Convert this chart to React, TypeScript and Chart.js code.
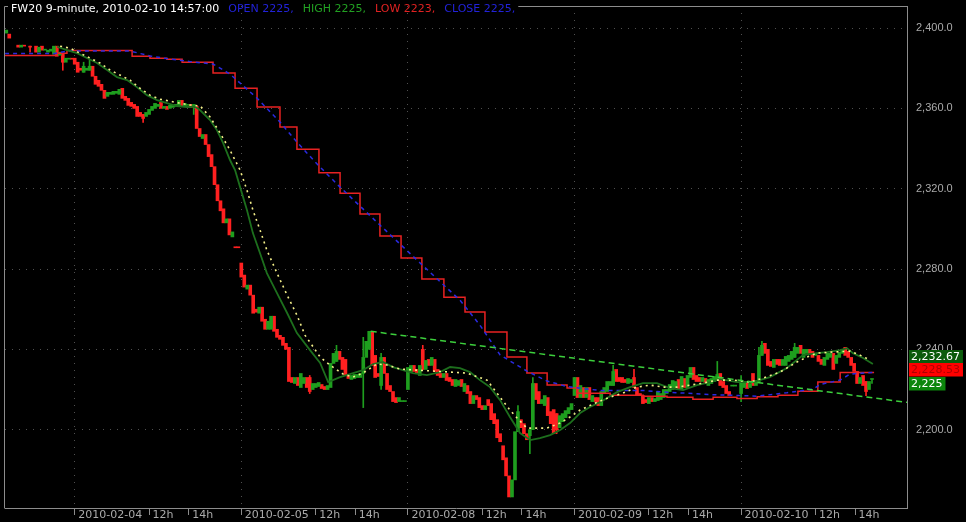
import React, { useEffect, useRef } from 'react';
import { Chart, registerables } from 'chart.js';

Chart.register(...registerables);

// ---------- header / axis data ----------
const SYMBOL_TITLE = 'FW20 9-minute, 2010-02-10 14:57:00';
const LAST_OPEN = 2225;
const LAST_HIGH = 2225;
const LAST_LOW = 2223;
const LAST_CLOSE = 2225;

const DATE_LABELS = ['2010-02-04', '2010-02-05', '2010-02-08', '2010-02-09', '2010-02-10'];
const HOUR_LABELS = ['12h', '14h'];
const HOUR_BAR_OFFSETS = [25, 38.33];
const BARS_PER_DAY = 56;
const Y_TICKS = [2200, 2240, 2280, 2320, 2360, 2400];
const X_RANGE = [-23.43, 279.77];
const Y_RANGE = [2161, 2411];

// ---------- candles: [open, close] or [open, close, high, low] ----------
const feb03 = [
  [2397.5, 2399], [2397, 2395], null, null, [2391.5, 2390.5], [2390.5, 2391.5], [2391.5, 2391], null,
  [2391, 2390.5, 2391, 2388], null, [2391, 2388], [2388, 2390.5], [2391, 2389], [2389, 2389.5], [2388, 2389], [2388.5, 2389.5],
  [2387, 2391], [2391, 2386], [2386.5, 2388], [2387.5, 2383, 2387.5, 2379], [2383, 2385], [2384.5, 2384.5], [2385, 2384.5],
];
const feb04 = [
  [2385, 2382], [2383, 2378], [2380, 2379], [2378, 2381, 2383, 2378], [2379, 2380], [2379, 2381, 2384, 2379], [2381, 2376], [2376, 2372],
  [2374, 2371], [2372, 2369], [2369, 2365], [2366, 2368], [2367, 2368], [2367, 2368.5], [2367.5, 2368.5], [2367, 2369.5],
  [2370, 2365], [2366, 2364], [2365, 2361.5], [2363, 2361], [2362, 2360], [2361, 2356], [2358, 2356], [2357, 2355, 2357, 2353],
  [2356, 2358], [2357, 2359.5], [2359, 2361], [2360, 2362.5], [2361, 2362], [2363, 2360], [2360, 2361], [2361, 2359.5],
  [2360, 2361.5], [2360.5, 2361.5], [2361, 2362], [2361, 2364], [2364, 2361], [2361, 2362.5], [2361.5, 2362], [2362, 2360.5],
  [2361, 2362, 2362, 2357], [2361, 2350], [2350, 2346], [2345, 2347], [2347, 2342], [2342, 2336], [2337, 2331], [2331, 2322],
  [2322, 2314], [2314, 2309], [2310, 2303], [2303, 2305], [2305, 2297], [2296, 2298.5], [2291, 2290.6], [2291, 2290.6],
];
const feb05 = [
  [2283, 2276], [2277, 2271], [2270, 2272], [2272, 2267], [2267, 2258], [2260, 2258.5], [2258, 2261], [2261, 2254],
  [2255, 2250], [2250, 2254], [2250, 2256.5], [2256.5, 2249], [2250, 2246], [2247, 2245], [2246, 2242], [2243, 2240],
  [2241, 2224], [2226, 2223.5], [2223, 2226], [2226, 2222], [2221, 2228], [2223, 2226], [2226, 2221], [2226, 2219, 2227, 2218],
  [2220, 2223], [2221, 2223], [2221.5, 2223.5], [2222.5, 2220.5], [2221.5, 2220], [2220, 2222], [2221, 2233], [2233, 2238],
  [2234, 2239, 2242, 2234], [2239, 2235], [2236, 2230], [2235, 2227], [2227, 2225.5], [2225, 2227], [2225.5, 2227.5], [2226, 2227.5],
  [2226, 2228], [2228, 2236, 2246, 2211], [2236, 2244], [2240, 2249], [2249, 2232], [2237, 2226], [2228, 2226.5], [2222, 2236, 2238, 2220],
  [2236, 2228], [2228, 2220], [2222, 2219], [2219, 2214], [2216, 2213.5], [2214, 2216], [2214, 2214.3], [2214, 2214.3],
];
const feb08 = [
  [2220, 2231], [2229, 2232], [2232, 2229], [2230, 2228], [2227, 2232], [2240, 2230, 2242, 2230], [2230, 2234.5], [2235, 2232],
  [2232, 2236], [2235, 2229], [2230, 2227], [2228, 2226], [2226, 2228], [2228, 2224.5], [2226, 2224], [2225, 2222],
  [2221.5, 2225], [2222, 2224.5], [2225, 2221.5], [2219, 2223], [2222, 2218], [2219, 2213], [2213, 2217], [2217, 2215],
  [2216, 2211], [2212, 2210], [2210, 2212], [2215, 2212], [2213, 2205], [2208, 2203], [2205, 2196], [2198, 2194],
  [2192, 2185], [2186, 2177], [2177, 2166.5], [2166.5, 2175], [2175, 2199], [2199, 2209, 2212, 2199], [2205, 2201], [2203, 2198],
  [2198, 2195], [2197, 2200, 2200, 2188], [2200, 2223, 2226, 2200], [2223, 2215], [2219, 2213], [2213, 2215], [2212, 2217], [2216, 2207],
  [2209, 2203], [2210, 2198], [2208, 2200, 2208, 2198], [2201, 2207], [2204, 2208], [2206, 2209.5], [2208, 2211], [2210, 2213],
];
const feb09 = [
  [2217, 2226], [2226, 2216], [2216, 2222], [2221, 2216], [2216, 2221], [2221, 2215], [2214, 2217], [2216, 2214],
  [2216, 2212], [2212, 2219], [2218, 2221], [2219, 2224], [2222, 2224], [2222, 2229, 2232, 2222], [2230, 2224], [2226, 2224],
  [2226, 2223.5], [2225, 2223.5], [2223, 2225.5], [2223.5, 2225], [2226, 2221, 2230, 2221], [2221, 2217], [2218, 2217], [2217, 2213],
  [2215, 2213.5], [2213, 2216], [2216, 2214], [2214, 2215.5], [2214.5, 2219], [2215, 2218], [2216, 2220], [2218, 2220],
  [2219, 2222.5], [2220, 2224.5], [2221, 2224], [2225, 2220], [2220, 2226.5], [2225.5, 2221], [2221, 2227], [2226, 2231],
  [2231, 2225], [2227, 2224], [2226, 2224], [2224, 2226], [2225.5, 2223], [2222, 2225], [2223, 2225.5], [2224, 2226.5],
  [2225, 2227.5, 2234, 2225], [2228, 2222], [2224, 2221], [2222, 2218], [2219, 2217], [2221.7, 2222.2], [2221.7, 2222.2], null,
];
const feb10 = [
  [2218, 2224, 2227, 2214], [2221, 2224], [2223.5, 2220.5], [2221, 2223], [2228, 2222], [2222, 2224.5], [2224, 2237, 2241, 2224], [2237, 2242, 2244, 2237],
  [2243, 2238], [2240, 2232], [2234, 2231.5], [2231, 2235], [2235, 2232.5], [2235, 2232], [2232, 2235], [2232, 2236.5],
  [2234, 2237], [2235, 2239], [2236, 2241, 2243, 2236], [2238, 2241], [2242, 2238], [2236, 2240], [2238, 2240], [2240, 2238],
  [2239, 2236], [2237, 2237.7], [2237, 2234], [2235, 2232.5], [2232, 2236], [2235, 2238], [2236, 2238], [2238, 2230],
  [2233, 2237], [2236, 2238.5], [2238, 2240], [2241, 2237], [2239, 2236], [2236, 2232], [2233, 2229], [2229, 2223],
  [2223, 2226], [2227, 2222], [2224, 2219, 2224, 2217], [2220, 2224], [LAST_OPEN, LAST_CLOSE, LAST_HIGH, LAST_LOW],
];
const SESSIONS = [feb03, feb04, feb05, feb08, feb09, feb10];

// ---------- indicator lines: [bar index, value] ----------
const smaFast = [
  [-5.9, 2390.7], [-2.6, 2389], [0.8, 2387.5], [4.1, 2385.1], [7.5, 2382.6], [10.9, 2379.1], [14.2, 2375.6], [17.6, 2374.1],
  [20.9, 2370.6], [24.3, 2366.6], [27.7, 2364.1], [31, 2362.6], [34.4, 2361.2], [37.7, 2360.7], [40.4, 2360.9], [42.1, 2359.2],
  [45.5, 2354.2], [47.8, 2349.2], [49.9, 2342.7], [52.2, 2334.3], [53.9, 2329.3], [55.6, 2320.8], [57.9, 2309.4], [59.9, 2297.9],
  [62.3, 2287.9], [64.6, 2278], [68, 2268], [71.4, 2258.1], [74.7, 2248.1], [79.1, 2239.6], [82.5, 2233.2], [85.2, 2223.7],
  [89.2, 2226.2], [93.6, 2228.2], [96.9, 2229.7], [100.3, 2232.7], [103.6, 2233.7], [107, 2231.2], [113.7, 2228.2], [118.4, 2227.2],
  [122.8, 2228.7], [126.2, 2231.2], [129.5, 2230.7], [132.9, 2228.7], [136.2, 2224.7], [139.6, 2221.2], [143, 2214.7], [146.3, 2206.3],
  [149.7, 2198.3], [153.1, 2194.8], [156.4, 2195.8], [159.8, 2197.3], [163.2, 2199.8], [166.5, 2203.3], [169.9, 2208.3], [173.2, 2211.3],
  [176.6, 2213.7], [182.3, 2218.7], [186.7, 2221.2], [191, 2223.2], [195.7, 2223.2], [200.1, 2220.7], [204.5, 2219.7], [209.2, 2222.2],
  [213.6, 2223.7], [217, 2225.2], [222.6, 2223.7], [228, 2223.7], [233.7, 2226.2], [239.4, 2230.7], [244.8, 2237.2], [249.5, 2238.1],
  [252.9, 2238.6], [257.3, 2239.6], [259.6, 2240.6], [261.6, 2238.1], [265, 2235.7], [268.3, 2232.67],
];
const smaSlow = [
  [-4.9, 2391], [-1.6, 2390], [1.8, 2387.5], [5.1, 2385.1], [8.5, 2382.6], [11.9, 2379.1], [15.2, 2376.6], [18.6, 2374.1],
  [21.9, 2370.1], [25.3, 2366.6], [28.7, 2364.6], [32, 2363.6], [35.4, 2362.6], [38.8, 2361.7], [42.2, 2361.2], [45.5, 2355.7],
  [48.9, 2347.7], [52.2, 2339.2], [55.6, 2329.3], [57.9, 2319.3], [59.9, 2309.4], [62.3, 2299.4], [64.6, 2289.4], [68, 2278],
  [71.4, 2267], [74.7, 2257.1], [77.4, 2247.1], [82.5, 2236.2], [85.8, 2232.2], [90.2, 2227.7], [93.6, 2226.2], [96.9, 2228.2],
  [101.6, 2232.7], [105, 2232.2], [109.4, 2230.2], [120.4, 2229.2], [131.8, 2228.2], [138.6, 2224.7], [143, 2216.2], [146.3, 2209.8],
  [148.7, 2205.8], [152, 2200.8], [158.8, 2200.8], [163.1, 2203.3], [166.5, 2206.3], [169.9, 2209.8], [175.6, 2213.7], [179.9, 2216.2],
  [184.3, 2218.2], [189, 2221.2], [193.4, 2222.2], [197.8, 2221.2], [202.5, 2221.2], [206.8, 2222.2], [211.2, 2223.2], [216, 2224.7],
  [221.3, 2224.7], [227, 2223.7], [231.4, 2225.7], [237.1, 2228.7], [242.8, 2233.7], [246.2, 2236.2], [249.5, 2238.1], [253.9, 2238.6],
  [260.6, 2239.1], [264, 2237.1], [267.3, 2234.7],
];
const hourlyStep = [
  [-23.4, 2386.3], [-5.9, 2387.5], [-2.6, 2388.8], [19.3, 2386], [25.3, 2385], [31, 2384.5], [36.1, 2383], [46.5, 2377.6],
  [53.9, 2370], [61.3, 2360.7], [69, 2350.7], [74.7, 2339.7], [82.1, 2328], [89.2, 2317.8], [95.9, 2307.4], [102.6, 2296.4],
  [109.7, 2285.5], [116.7, 2275], [124.1, 2266], [131.2, 2258.6], [137.9, 2248.6], [145.3, 2236.2], [152, 2228.2], [158.8, 2222.2],
  [165.5, 2220.7], [168.8, 2218.2], [180, 2217.2], [191.1, 2216.7], [199.1, 2216.2], [207.8, 2215.2], [214.6, 2216.2], [222.6, 2215.5],
  [229.4, 2216.4], [236.4, 2217.2], [243.1, 2219.2], [249.8, 2223.7], [257.3, 2228.53], [268.7, 2228.53],
];
const hourlySmooth = [
  [-23.4, 2387.4], [-6.6, 2387.4], [-2.6, 2388.6], [18.6, 2388.6], [25.3, 2386.1], [31, 2384.8], [38.8, 2383.3], [46.5, 2382.1],
  [52.2, 2377.1], [61.3, 2365.1], [69, 2353.2], [74.7, 2343.2], [81.8, 2331.8], [89.2, 2320.8], [102.6, 2301.9], [116.1, 2283],
  [129.5, 2264.5], [136.2, 2252.1], [143, 2237.2], [152, 2229.2], [158.8, 2224.2], [165.5, 2221.5], [176.6, 2219.5], [191.1, 2219.5],
  [199.1, 2218.7], [213.5, 2217.5], [229.4, 2216.7], [239.4, 2218.4], [248.2, 2220.2], [250.5, 2222.5], [257.3, 2224.7], [260.6, 2227.7],
  [268.3, 2228.5],
];
const trendLine = [[99.5, 2249], [279.8, 2213.6]];

// ---------- styles ----------
const UP = '#1e9e1e';
const DOWN = '#ff2020';
const FRAME = '#8c8c8c';
const GRID = '#505050';
const LABEL = '#aaaaaa';

function buildCandles() {
  const bodiesUp: any[] = [], bodiesDown: any[] = [], wicksUp: any[] = [], wicksDown: any[] = [];
  SESSIONS.forEach((day, k) => {
    const start = k === 0 ? -day.length : (k - 1) * BARS_PER_DAY;
    day.forEach((b: any, i: number) => {
      if (!b) return;
      const x = start + i;
      const o = b[0], c = b[1];
      const top = Math.max(o, c), bot = Math.min(o, c);
      const h = b.length > 2 ? b[2] : top;
      const l = b.length > 3 ? b[3] : bot;
      const up = c >= o;
      (up ? bodiesUp : bodiesDown).push({ x, y: [bot, top] });
      if (h > top || l < bot) (up ? wicksUp : wicksDown).push({ x, y: [l, h] });
    });
  });
  return { bodiesUp, bodiesDown, wicksUp, wicksDown };
}

const pts = (arr: number[][]) => arr.map(([x, y]) => ({ x, y }));

const X_TICKS: { value: number; label: string; day: boolean }[] = [];
DATE_LABELS.forEach((d, k) => {
  X_TICKS.push({ value: k * BARS_PER_DAY, label: ' ' + d, day: true });
  HOUR_LABELS.forEach((h, j) => X_TICKS.push({ value: k * BARS_PER_DAY + HOUR_BAR_OFFSETS[j], label: ' ' + h, day: false }));
});
const DAY_VALUES = new Set(X_TICKS.filter(t => t.day).map(t => t.value));

const fmt = (v: number, d: number) => v.toLocaleString('en-US', { minimumFractionDigits: d, maximumFractionDigits: d });

const overlayPlugin = {
  id: 'overlay',
  afterDraw(chart: any) {
    const { ctx, chartArea: a, scales } = chart;
    const y = scales.y;
    ctx.save();
    ctx.font = "11px 'DejaVu Sans'";
    ctx.textBaseline = 'alphabetic';
    const segs: [string, string][] = [
      [SYMBOL_TITLE, '#ffffff'],
      [`OPEN ${LAST_OPEN},`, '#2222d8'],
      [`HIGH ${LAST_HIGH},`, '#22a022'],
      [`LOW ${LAST_LOW},`, '#e02222'],
      [`CLOSE ${LAST_CLOSE},`, '#2222d8'],
    ];
    let x = 11;
    segs.forEach(([t, c]) => {
      ctx.fillStyle = c;
      ctx.fillText(t, x, 11.5);
      x += ctx.measureText(t).width + 9;
    });
    const titleEnd = x - 6;
    ctx.strokeStyle = FRAME;
    ctx.lineWidth = 1;
    ctx.beginPath();
    ctx.moveTo(4.5, a.bottom + 0.5);
    ctx.lineTo(4.5, 6.5);
    ctx.lineTo(8, 6.5);
    ctx.moveTo(titleEnd, 6.5);
    ctx.lineTo(a.right + 0.5, 6.5);
    ctx.stroke();

    const lastSma = smaFast[smaFast.length - 1][1];
    const lastStep = hourlyStep[hourlyStep.length - 1][1];
    const items = [
      { v: lastSma, text: fmt(lastSma, 2), bg: '#0b5a0b', fg: '#ffffff' },
      { v: lastStep, text: fmt(lastStep, 2), bg: '#ff0000', fg: '#b00000' },
      { v: LAST_CLOSE, text: fmt(LAST_CLOSE, 0), bg: '#0c860c', fg: '#ffffff' },
    ].sort((p, q) => q.v - p.v);
    const bh = 13.5;
    const ys = items.map(it => y.getPixelForValue(it.v) - 2);
    for (let n = 0; n < 60; n++) {
      for (let i = 1; i < ys.length; i++) {
        const d = ys[i] - ys[i - 1];
        if (d < bh) { const s = (bh - d) / 2; ys[i - 1] -= s; ys[i] += s; }
      }
    }
    ctx.textBaseline = 'middle';
    items.forEach((it, i) => {
      const w = ctx.measureText(it.text).width + 5;
      ctx.fillStyle = it.bg;
      ctx.fillRect(a.right + 2, Math.round(ys[i] - bh / 2), w, bh);
      ctx.fillStyle = it.fg;
      ctx.fillText(it.text, a.right + 4, ys[i] + 0.5);
    });
    ctx.restore();
  },
};

export default function App() {
  const ref = useRef<HTMLCanvasElement>(null);
  useEffect(() => {
    const { bodiesUp, bodiesDown, wicksUp, wicksDown } = buildCandles();
    const barCommon = { type: 'bar', grouped: false, borderWidth: 0, borderSkipped: false, minBarLength: 1 };
    const lineCommon = { type: 'line', pointRadius: 0, fill: false, tension: 0, spanGaps: true };
    const chart = new Chart(ref.current as HTMLCanvasElement, {
      type: 'bar',
      data: {
        datasets: [
          { ...lineCommon, data: pts(trendLine), borderColor: '#3ccf3c', borderWidth: 1.5, borderDash: [6, 4], order: 1 },
          { ...lineCommon, data: pts(smaSlow), borderColor: '#f4f08a', borderWidth: 1.6, borderDash: [2, 4], order: 2 },
          { ...lineCommon, data: pts(smaFast), borderColor: '#1d6f1d', borderWidth: 1.8, order: 3 },
          { ...lineCommon, data: pts(hourlySmooth), borderColor: '#2a2ae0', borderWidth: 1.5, borderDash: [4, 4], order: 4 },
          { ...lineCommon, data: pts(hourlyStep), borderColor: '#e82222', borderWidth: 1.5, stepped: true, order: 5 },
          { ...barCommon, data: bodiesUp, backgroundColor: UP, barThickness: 3, order: 10 },
          { ...barCommon, data: bodiesDown, backgroundColor: DOWN, barThickness: 3, order: 11 },
          { ...barCommon, data: wicksUp, backgroundColor: UP, barThickness: 1, order: 12 },
          { ...barCommon, data: wicksDown, backgroundColor: DOWN, barThickness: 1, order: 13 },
        ] as any,
      },
      options: {
        responsive: false,
        animation: false,
        devicePixelRatio: 1,
        events: [],
        layout: { padding: { left: 5, top: 6, right: 0, bottom: 0 } },
        plugins: { legend: { display: false }, tooltip: { enabled: false }, title: { display: false } },
        scales: {
          x: {
            type: 'linear',
            min: X_RANGE[0],
            max: X_RANGE[1],
            offset: false,
            afterBuildTicks: (s: any) => { s.ticks = X_TICKS.map(t => ({ value: t.value })); },
            afterFit: (s: any) => { s.height = 14; s.paddingLeft = 0; s.paddingRight = 0; },
            ticks: {
              autoSkip: false, maxRotation: 0, minRotation: 0, align: 'start', padding: -6,
              color: LABEL, font: { family: 'DejaVu Sans', size: 11 },
              callback: (_v: any, i: number) => X_TICKS[i] ? X_TICKS[i].label : '',
            },
            grid: {
              offset: false, drawTicks: true, tickLength: 7, tickColor: FRAME, lineWidth: 1,
              color: (c: any) => (c.tick && DAY_VALUES.has(c.tick.value) ? GRID : 'rgba(0,0,0,0)'),
            },
            border: { display: true, color: FRAME, dash: [1, 6] },
          },
          y: {
            type: 'linear',
            position: 'right',
            min: Y_RANGE[0],
            max: Y_RANGE[1],
            afterBuildTicks: (s: any) => { s.ticks = Y_TICKS.map(v => ({ value: v })); },
            afterFit: (s: any) => { s.width = 59; s.paddingTop = 0; s.paddingBottom = 0; },
            ticks: {
              padding: 9, color: LABEL, font: { family: 'Liberation Sans', size: 11 },
              callback: (v: any) => fmt(Number(v), 1),
            },
            grid: { drawTicks: false, color: GRID, lineWidth: 1 },
            border: { display: true, color: FRAME, dash: [1, 6] },
          },
        },
      } as any,
      plugins: [overlayPlugin],
    } as any);
    return () => chart.destroy();
  }, []);
  return (
    <div style={{ position: 'fixed', left: 0, top: 0, width: 966, height: 522, background: '#000' }}>
      <canvas ref={ref} width={966} height={522} style={{ display: 'block', width: 966, height: 522 }} />
    </div>
  );
}
